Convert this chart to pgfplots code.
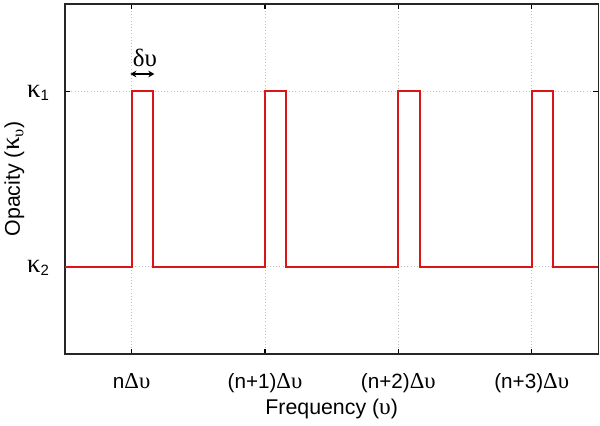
\documentclass[border=0pt]{standalone}
\usepackage{pgfplots}
\pgfplotsset{compat=1.18}
\usetikzlibrary{arrows.meta}
\usepackage{fontspec}
\setmainfont{Liberation Sans}
\newfontfamily\gr[Scale=1.1]{Liberation Serif}
\newfontfamily\grk[Scale=1.25]{Liberation Serif}
\definecolor{linered}{RGB}{220,20,20}
\begin{document}
\begin{tikzpicture}
\useasboundingbox (-48.75pt,-53.25pt) rectangle (401.25pt,265.5pt);
\begin{axis}[
  at={(0,0)}, anchor=south west,
  scale only axis,
  width=400pt, height=262.5pt,
  xmin=0.5, xmax=4.5, ymin=0.5, ymax=2.5,
  xtick={1,2,3,4},
  xticklabels={n{\gr Δυ},(n+1){\gr Δυ},(n+2){\gr Δυ},(n+3){\gr Δυ}},
  ytick={1,2},
  yticklabels={{\grk κ}\textsubscript{2},{\grk κ}\textsubscript{1}},
  tick align=inside,
  major tick length=4pt,
  tick style={black, line width=0.8pt},
  axis line style={black!85, line width=1pt},
  grid=major,
  grid style={gray!50, dotted, line width=0.5pt},
  xticklabel style={font=\fontsize{15.5}{16}\selectfont, anchor=base, yshift=-25.5pt},
  yticklabel style={font=\fontsize{16}{18}\selectfont, anchor=east, xshift=-8pt, yshift=-1pt},
  xlabel={Frequency ({\gr υ})},
  ylabel={Opacity ({\grk κ}\textsubscript{\gr υ})},
  label style={font=\fontsize{16}{17}\selectfont},
  xlabel style={at={(axis description cs:0.5,0)}, anchor=base, yshift=-45pt},
  ylabel style={at={(axis description cs:0,0.5)}, anchor=center, yshift=38pt},
]
\addplot[linered, line width=1.5pt, line join=miter] coordinates {
 (0.5,1) (1,1) (1,2) (1.16,2) (1.16,1)
 (2,1) (2,2) (2.16,2) (2.16,1)
 (3,1) (3,2) (3.16,2) (3.16,1)
 (4,1) (4,2) (4.16,2) (4.16,1) (4.5,1)
};
\draw[{Stealth[length=4.5pt,width=5pt]}-{Stealth[length=4.5pt,width=5pt]}, line width=1.5pt] (axis cs:0.99,2.1) -- (axis cs:1.17,2.1);
\node[anchor=base, font=\fontsize{17}{18}\gr] at (axis cs:1.1,2.14) {δυ};
\end{axis}
\end{tikzpicture}
\end{document}
